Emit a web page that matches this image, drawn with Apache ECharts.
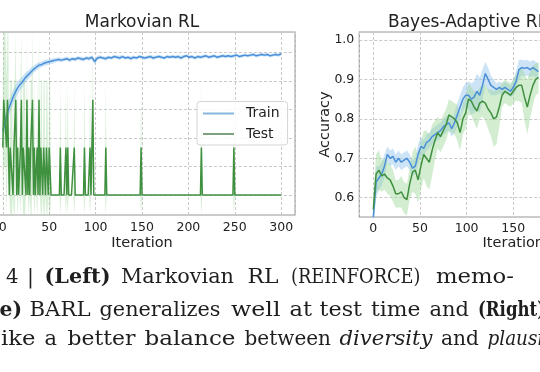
<!DOCTYPE html>
<html><head><meta charset="utf-8">
<script src="https://cdn.jsdelivr.net/npm/echarts@6/dist/echarts.min.js"></script>
<style>html,body{margin:0;padding:0;background:#fff;overflow:hidden}#c{width:540px;height:372px}</style>
</head><body><div id="c"></div>
<script>
// ---------- DATA ----------
// Left panel (Markovian RL): train accuracy every 3 iterations (0..300)
const leftTrainAcc = [
  0.45,0.52,0.60,0.65,0.70,0.74,0.77,0.79,0.82,0.84,
  0.86,0.88,0.895,0.91,0.915,0.925,0.93,0.935,0.94,0.945,
  0.95,0.945,0.95,0.955,0.945,0.955,0.95,0.96,0.955,0.95,
  0.96,0.955,0.965,0.935,0.96,0.965,0.96,0.955,0.965,0.96,
  0.97,0.965,0.96,0.97,0.96,0.965,0.955,0.965,0.96,0.97,
  0.965,0.96,0.965,0.97,0.96,0.965,0.97,0.965,0.96,0.97,
  0.965,0.97,0.965,0.97,0.96,0.97,0.975,0.965,0.97,0.96,
  0.97,0.965,0.97,0.975,0.965,0.97,0.975,0.965,0.97,0.975,
  0.97,0.975,0.97,0.975,0.98,0.97,0.975,0.98,0.975,0.98,
  0.985,0.975,0.98,0.985,0.98,0.985,0.975,0.98,0.985,0.98,
  0.99
];
const leftTrainStd = [
  0.06,0.06,0.06,0.05,0.05,0.05,0.04,0.04,0.035,0.03,
  0.03,0.025,0.025,0.02,0.02,0.02,0.02,0.018,0.018,0.015,
  0.015,0.015,0.012,0.015,0.015,0.012,0.015,0.012,0.015,0.015,
  0.012,0.015,0.012,0.02,0.015,0.012,0.012,0.015,0.012,0.012,
  0.012,0.012,0.015,0.012,0.012,0.012,0.015,0.012,0.012,0.012,
  0.012,0.012,0.012,0.012,0.015,0.012,0.012,0.012,0.012,0.012,
  0.012,0.012,0.012,0.012,0.015,0.012,0.012,0.012,0.012,0.012,
  0.012,0.012,0.012,0.012,0.012,0.012,0.012,0.012,0.012,0.012,
  0.012,0.012,0.012,0.012,0.012,0.012,0.012,0.012,0.012,0.012,
  0.012,0.012,0.012,0.012,0.012,0.012,0.012,0.012,0.012,0.012,
  0.012
];
// Left panel: test accuracy every iteration (0..300)
const leftTestAcc = [
  0.333,0.667,0.667,0.667,0.333,0.667,0.667,0,0.333,0.333,0.333,0,0.333,0.333,0.667,0,0.333,0,0,0.333,
  0.667,0,0.333,0.333,0.333,0,0.667,0,0.333,0,0.333,0.333,0.667,0,0.333,0,0,0.333,0,0.667,
  0,0.333,0.333,0,0.333,0.333,0,0.333,0.333,0,0.333,0.333,0,0,0,0,0,0,0,0,
  0,0,0.333,0,0,0,0,0,0.333,0,0.333,0,0,0,0,0,0,0.333,0,0,
  0,0,0,0,0,0,0,0,0.333,0,0,0,0,0,0.333,0,0,0.667,0,0,
  0,0,0,0,0,0,0,0,0,0,0,0.333,0,0,0,0,0,0,0,0,
  0,0,0,0,0,0,0,0,0,0,0,0,0,0,0,0,0,0,0,0,
  0,0,0,0,0,0,0,0,0,0.333,0,0,0,0,0,0,0,0,0,0,
  0,0,0,0,0,0,0,0,0,0,0,0,0,0,0,0,0,0,0,0,
  0,0,0,0,0,0,0,0,0,0,0,0,0,0,0,0,0,0,0,0,
  0,0,0,0,0,0,0,0,0,0,0,0,0,0,0.333,0,0,0,0,0,
  0,0,0,0,0,0,0,0,0,0,0,0,0,0,0,0,0,0,0,0,
  0,0,0,0,0,0,0,0,0,0.333,0,0,0,0,0,0,0,0,0,0,
  0,0,0,0,0,0,0,0,0,0,0,0,0,0,0,0,0,0,0,0,
  0,0,0,0,0,0,0,0,0,0,0,0,0,0,0,0,0,0,0,0,
  0
];
const leftTestStd = [
  0.471,0.471,0.471,0.471,0.471,0.471,0.471,0,0.471,0.471,0.471,0,0.471,0.471,0.471,0,0.471,0,0,0.471,
  0.471,0,0.471,0.471,0.471,0,0.471,0,0.471,0,0.471,0.471,0.471,0,0.471,0,0,0.471,0,0.471,
  0,0.471,0.471,0,0.471,0.471,0,0.471,0.471,0,0.471,0.471,0,0,0,0,0,0,0,0,
  0,0,0.471,0,0,0,0,0,0.471,0,0.471,0,0,0,0,0,0,0.471,0,0,
  0,0,0,0,0,0,0,0,0.471,0,0,0,0,0,0.471,0,0,0.471,0,0,
  0,0,0,0,0,0,0,0,0,0,0,0.471,0,0,0,0,0,0,0,0,
  0,0,0,0,0,0,0,0,0,0,0,0,0,0,0,0,0,0,0,0,
  0,0,0,0,0,0,0,0,0,0.471,0,0,0,0,0,0,0,0,0,0,
  0,0,0,0,0,0,0,0,0,0,0,0,0,0,0,0,0,0,0,0,
  0,0,0,0,0,0,0,0,0,0,0,0,0,0,0,0,0,0,0,0,
  0,0,0,0,0,0,0,0,0,0,0,0,0,0,0.471,0,0,0,0,0,
  0,0,0,0,0,0,0,0,0,0,0,0,0,0,0,0,0,0,0,0,
  0,0,0,0,0,0,0,0,0,0.471,0,0,0,0,0,0,0,0,0,0,
  0,0,0,0,0,0,0,0,0,0,0,0,0,0,0,0,0,0,0,0,
  0,0,0,0,0,0,0,0,0,0,0,0,0,0,0,0,0,0,0,0,
  0
];
// Right panel (Bayes-Adaptive RL): every 3 iterations (0..177)
const rightTrainAcc = [
  0.55,0.64,0.65,0.66,0.68,0.71,0.70,0.705,0.69,0.70,
  0.69,0.695,0.70,0.69,0.675,0.68,0.71,0.73,0.725,0.74,
  0.745,0.755,0.76,0.765,0.77,0.78,0.785,0.79,0.775,0.79,
  0.81,0.83,0.85,0.86,0.86,0.85,0.855,0.87,0.86,0.885,
  0.915,0.90,0.885,0.88,0.875,0.88,0.875,0.88,0.875,0.87,
  0.88,0.895,0.925,0.93,0.928,0.93,0.925,0.93,0.925,0.92
];
const rightTrainStd = [
  0.03,0.04,0.03,0.03,0.03,0.02,0.02,0.02,0.02,0.02,
  0.02,0.02,0.02,0.02,0.02,0.02,0.025,0.025,0.02,0.02,
  0.02,0.02,0.02,0.02,0.02,0.02,0.02,0.02,0.02,0.025,
  0.03,0.03,0.03,0.03,0.035,0.04,0.04,0.045,0.045,0.04,
  0.03,0.03,0.025,0.02,0.015,0.015,0.015,0.015,0.015,0.015,
  0.02,0.025,0.025,0.02,0.02,0.02,0.02,0.02,0.02,0.02
];
const rightTestAcc = [
  0.57,0.66,0.67,0.655,0.66,0.65,0.645,0.63,0.61,0.61,
  0.615,0.60,0.595,0.635,0.665,0.67,0.645,0.68,0.71,0.70,
  0.69,0.72,0.745,0.765,0.755,0.77,0.785,0.81,0.805,0.80,
  0.79,0.765,0.80,0.815,0.85,0.845,0.83,0.82,0.84,0.845,
  0.84,0.825,0.815,0.80,0.805,0.83,0.86,0.87,0.865,0.86,
  0.87,0.88,0.885,0.885,0.855,0.83,0.86,0.885,0.90,0.905
];
const rightTestStd = [
  0.04,0.05,0.05,0.04,0.04,0.04,0.04,0.04,0.035,0.035,
  0.04,0.04,0.04,0.04,0.05,0.06,0.06,0.06,0.06,0.07,
  0.07,0.065,0.05,0.04,0.04,0.04,0.04,0.04,0.04,0.04,
  0.045,0.045,0.04,0.04,0.04,0.035,0.04,0.045,0.04,0.04,
  0.045,0.05,0.06,0.07,0.07,0.05,0.03,0.03,0.03,0.03,
  0.03,0.035,0.04,0.045,0.06,0.07,0.06,0.05,0.04,0.04
];
const panelTitles = ['Markovian RL', 'Bayes-Adaptive RL'];
const legendNames = ['Train', 'Test'];
const xName = 'Iteration';
const yName = 'Accuracy';
// Caption words: [text, line, style]
const captionWords = [
  ['4', 0, 'n'], ['|', 0, 'n'], ['(Left)', 0, 'b'], ['Markovian', 0, 'n'], ['RL', 0, 'n'],
  ['(REINFORCE)', 0, 'n'], ['memo-', 0, 'n'],
  ['e)', 1, 'b'], ['BARL', 1, 'n'], ['generalizes', 1, 'n'], ['well', 1, 'n'], ['at', 1, 'n'],
  ['test', 1, 'n'], ['time', 1, 'n'], ['and', 1, 'n'], ['(Right)', 1, 'b'],
  ['ike', 2, 'n'], ['a', 2, 'n'], ['better', 2, 'n'], ['balance', 2, 'n'], ['between', 2, 'n'],
  ['diversity', 2, 'i'], ['and', 2, 'n'], ['plausibility', 2, 'i']
];

// ---------- LAYOUT ----------
const captionX = [6, 27, 44.5, 121, 247.5, 291, 436,
  -0.5, 29.5, 99.5, 231, 289.5, 319.5, 371, 429.5, 478,
  1, 44.5, 67.5, 144.5, 244.5, 339.5, 441, 487.5];
const captionW = [12.5, null, 66, 113, 31, 129.5, 78,
  22.5, 61, 121, 49.5, 22.5, 42.5, 49.5, 39.5, 67,
  34.5, 12.5, 68, 91, 86.5, 93, 38, 103];
const captionTop = [268, 300.5, 330];
const capSize = 19.5;

const leftTrainIters = leftTrainAcc.map((_, k) => k * 3);
const leftTestIters = leftTestAcc.map((_, k) => k);
const rightIters = rightTrainAcc.map((_, k) => k * 3);

const trainColor = '#4a8fd8', testColor = '#3f903f';
const trainBand = '#9ccaf0', testBand = '#9ed69a';
const txt = '#222';

function band(ax, iters, mean, std, color, op) {
  const data = iters.map((x, k) => [x, mean[k] - std[k], mean[k] + std[k]]);
  return {
    type:'custom', xAxisIndex:ax, yAxisIndex:ax, silent:true, z:1, data:data,
    encode:{x:0, y:[1, 2]},
    renderItem:(params, api) => {
      if (params.dataIndex !== 0) return null;
      const up = data.map(d => api.coord([d[0], d[2]]));
      const dn = data.map(d => api.coord([d[0], d[1]])).reverse();
      const cs = params.coordSys;
      return {type:'polygon', shape:{points:up.concat(dn)},
        style:{fill:color, opacity:op},
        clipPath:{type:'rect', shape:{x:cs.x, y:cs.y, width:cs.width, height:cs.height}}};
    }
  };
}
function line(name, ax, iters, mean, color, z) {
  return {type:'line', name:name, xAxisIndex:ax, yAxisIndex:ax, symbol:'none', z:z,
    lineStyle:{color:color, width:1.5}, itemStyle:{color:color},
    data: iters.map((x,k)=>[x, mean[k]])};
}
const split = {show:true, lineStyle:{color:'#c9c9c9', type:[3,2], width:1}};
const tickFont = {fontFamily:'DejaVu Sans', fontSize:12.5, color:txt};
const nameFont = {fontFamily:'DejaVu Sans', fontSize:14.5, color:txt};

// caption: fit each word horizontally to the measured word box of the reference
const mctx = document.createElement('canvas').getContext('2d');
function fontOf(st) {
  return (st === 'i' ? 'italic ' : '') + (st === 'b' ? 'bold ' : '') + capSize + 'px "DejaVu Serif"';
}
const capScale = captionWords.map((w, k) => {
  mctx.font = fontOf(w[2]);
  const m = mctx.measureText(w[0]).width;
  return captionW[k] ? captionW[k] / m : null;
});
const lineScale = [0, 1, 2].map(L => {
  const s = capScale.filter((v, k) => v && captionWords[k][1] === L && captionWords[k][0].length > 2);
  return s.reduce((a, b) => a + b, 0) / s.length;
});
const captionGraphics = captionWords.map((w, k) => ({
  type:'text', x:captionX[k], y:captionTop[w[1]], scaleX:capScale[k] || lineScale[w[1]], silent:true,
  style:{text:w[0], fontFamily:'DejaVu Serif', fontSize:capSize,
    fontWeight:w[2] === 'b' ? 'bold' : 'normal', fontStyle:w[2] === 'i' ? 'italic' : 'normal',
    fill:'#1e1e1e', align:'left', verticalAlign:'top'}
}));

const chart = echarts.init(document.getElementById('c'), null, {renderer:'canvas'});
chart.setOption({
  animation:false,
  backgroundColor:'#fff',
  title:[
    {text:panelTitles[0], left:142, top:14, textAlign:'center', padding:0,
     textStyle:{fontFamily:'DejaVu Sans', fontSize:17, fontWeight:'normal', color:txt}},
    {text:panelTitles[1], left:388, top:14, padding:0,
     textStyle:{fontFamily:'DejaVu Sans', fontSize:17, fontWeight:'normal', color:txt}}
  ],
  grid:[
    {left:-11.1, width:306.2, top:32, height:183, show:true, borderColor:'#999', borderWidth:1.2,
     backgroundColor:'transparent', containLabel:false, outerBoundsMode:'none'},
    {left:359.3, width:308, top:32, height:185, show:true, borderColor:'#999', borderWidth:1.2,
     backgroundColor:'transparent', containLabel:false, outerBoundsMode:'none'}
  ],
  xAxis:[
    {type:'value', gridIndex:0, min:-15, max:315, minInterval:50, maxInterval:50,
     axisLine:{show:false}, axisTick:{show:false}, splitLine:split,
     axisLabel:{...tickFont, margin:6, showMinLabel:false, showMaxLabel:false},
     name:xName, nameLocation:'middle', nameGap:21, nameMoveOverlap:false, nameTextStyle:nameFont},
    {type:'value', gridIndex:1, min:-15, max:315, minInterval:50, maxInterval:50,
     axisLine:{show:false}, axisTick:{show:false}, splitLine:split,
     axisLabel:{...tickFont, margin:5, showMinLabel:false, showMaxLabel:false},
     name:xName, nameLocation:'middle', nameGap:19, nameMoveOverlap:false, nameTextStyle:nameFont}
  ],
  yAxis:[
    {type:'value', gridIndex:0, min:-0.14, max:1.142, minInterval:0.2, maxInterval:0.2,
     axisLine:{show:false}, axisTick:{show:false}, splitLine:split,
     axisLabel:{show:false}},
    {type:'value', gridIndex:1, min:0.551, max:1.0203, minInterval:0.1, maxInterval:0.1,
     axisLine:{show:false}, axisTick:{show:false}, splitLine:split,
     axisLabel:{...tickFont, margin:5, showMinLabel:false, showMaxLabel:false,
       formatter:(v)=>v.toFixed(1)},
     name:yName, nameLocation:'middle', nameGap:27, nameMoveOverlap:false, nameTextStyle:nameFont}
  ],
  legend:{
    orient:'vertical', left:197, top:101.5, padding:[4,8,3,6], itemGap:4.5,
    itemWidth:31, itemHeight:2, icon:'rect', selectedMode:false,
    data:[{name:legendNames[0], itemStyle:{color:'#86b4de'}}, {name:legendNames[1], itemStyle:{color:'#7d9f7e'}}],
    textStyle:{fontFamily:'DejaVu Sans', fontSize:14, color:txt, lineHeight:16, padding:[0,0,0,7]},
    backgroundColor:'rgba(255,255,255,0.85)', borderColor:'#d4d4d4', borderWidth:1, borderRadius:3
  },
  graphic: captionGraphics,
  series:[
    band(0, leftTrainIters, leftTrainAcc, leftTrainStd, trainBand, 0.55),
    band(0, leftTestIters, leftTestAcc, leftTestStd, testBand, 0.4),
    line(legendNames[0], 0, leftTrainIters, leftTrainAcc, trainColor, 3),
    line(legendNames[1], 0, leftTestIters, leftTestAcc, testColor, 4),
    band(1, rightIters, rightTrainAcc, rightTrainStd, trainBand, 0.5),
    band(1, rightIters, rightTestAcc, rightTestStd, testBand, 0.45),
    line(legendNames[0], 1, rightIters, rightTrainAcc, trainColor, 3),
    line(legendNames[1], 1, rightIters, rightTestAcc, testColor, 4)
  ]
});
</script></body></html>
